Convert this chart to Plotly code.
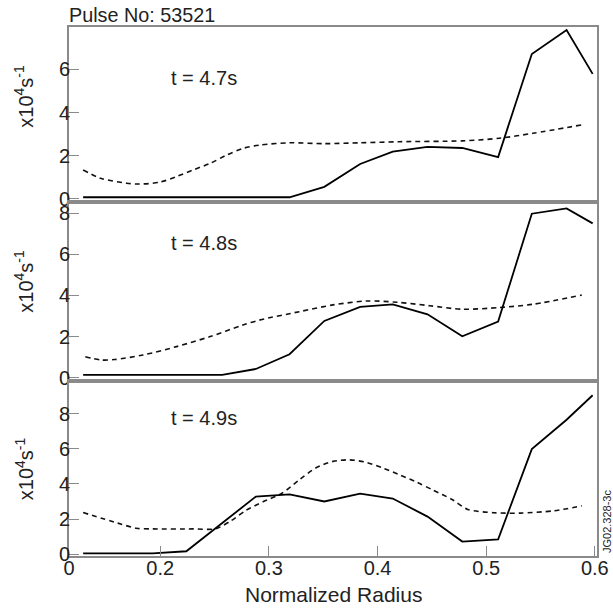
import plotly.graph_objects as go

# ---- data (x = normalized radius, y = x10^4 s^-1) ----
x_solid = [0.129, 0.161, 0.193, 0.224, 0.257, 0.288, 0.319, 0.351, 0.384, 0.414,
           0.446, 0.478, 0.511, 0.542, 0.574, 0.598]

y_solid_47 = [0.08, 0.08, 0.08, 0.08, 0.08, 0.08, 0.08, 0.56, 1.62, 2.19,
              2.41, 2.36, 1.94, 6.71, 7.82, 5.79]
y_solid_48 = [0.13, 0.13, 0.13, 0.13, 0.13, 0.42, 1.14, 2.76, 3.44, 3.57,
              3.08, 2.01, 2.73, 7.98, 8.24, 7.51]
y_solid_49 = [0.05, 0.05, 0.05, 0.17, 1.8, 3.28, 3.40, 3.0, 3.45, 3.17,
              2.14, 0.72, 0.85, 5.98, 7.65, 9.04]

x_dash_47 = [0.129, 0.145, 0.169, 0.181, 0.200, 0.215, 0.230, 0.246, 0.261, 0.276,
             0.292, 0.319, 0.351, 0.384, 0.420, 0.478, 0.512, 0.543, 0.588]
y_dash_47 = [1.34, 0.96, 0.73, 0.69, 0.78, 1.04, 1.34, 1.65, 2.03, 2.34,
             2.50, 2.60, 2.56, 2.60, 2.65, 2.69, 2.81, 3.04, 3.43]

x_dash_48 = [0.131, 0.145, 0.158, 0.184, 0.215, 0.246, 0.276, 0.292, 0.328, 0.359,
             0.390, 0.418, 0.448, 0.478, 0.512, 0.543, 0.588]
y_dash_48 = [1.02, 0.86, 0.88, 1.10, 1.51, 2.00, 2.56, 2.81, 3.21, 3.54,
             3.73, 3.67, 3.50, 3.33, 3.41, 3.57, 4.02]

x_dash_49 = [0.129, 0.161, 0.178, 0.193, 0.230, 0.251, 0.265, 0.279, 0.295, 0.312,
             0.328, 0.343, 0.359, 0.374, 0.390, 0.405, 0.420, 0.436, 0.451, 0.469,
             0.483, 0.507, 0.531, 0.562, 0.588]
y_dash_49 = [2.37, 1.77, 1.48, 1.44, 1.44, 1.45, 1.9, 2.5, 3.0, 3.47,
             4.23, 4.9, 5.28, 5.37, 5.22, 4.9, 4.52, 4.1, 3.65, 3.1,
             2.55, 2.36, 2.34, 2.47, 2.75]

panel_labels = ["t = 4.7s", "t = 4.8s", "t = 4.9s"]
x_tickvals = [0.116, 0.2, 0.3, 0.4, 0.5, 0.6]
x_ticktext = ["0", "0.2", "0.3", "0.4", "0.5", "0.6"]
y_ticks_top = [0, 2, 4, 6]
y_ticks_mid = [0, 2, 4, 6, 8]
y_ticks_bot = [0, 2, 4, 6, 8]

FONT = "Liberation Sans, Arial, Helvetica, sans-serif"
TXT = "#222222"
AX = "#8a8a8a"

fig = go.Figure()

panels = [
    ("y", "x", x_dash_47, y_dash_47, y_solid_47),
    ("y2", "x2", x_dash_48, y_dash_48, y_solid_48),
    ("y3", "x3", x_dash_49, y_dash_49, y_solid_49),
]
for ya, xa, xd, yd, ys in panels:
    fig.add_trace(go.Scatter(x=xd, y=yd, mode="lines", xaxis=xa, yaxis=ya,
                             line=dict(color="#111111", width=1.6, dash="5px,4px", shape="spline", smoothing=0.8),
                             showlegend=False, hoverinfo="skip"))
    fig.add_trace(go.Scatter(x=x_solid, y=ys, mode="lines", xaxis=xa, yaxis=ya,
                             line=dict(color="#000000", width=1.8),
                             showlegend=False, hoverinfo="skip"))

xr = [0.116, 0.602]
common_x = dict(range=xr, showline=True, linecolor=AX, linewidth=2, mirror=True,
                showgrid=False, zeroline=False, automargin=False)
common_y = dict(showline=True, linecolor=AX, linewidth=2, mirror=True, showgrid=False,
                zeroline=False, ticks="inside", ticklen=10, tickwidth=1.2, tickcolor=AX,
                tickfont=dict(family=FONT, size=20, color=TXT), ticklabelstandoff=-7,
                automargin=False)

H = 529.0
d_bot = (556 - 380.5) / H
d_mid = (556 - 202) / H

fig.update_layout(
    width=613, height=610,
    margin=dict(l=69, r=16, t=27, b=54, autoexpand=False),
    paper_bgcolor="white", plot_bgcolor="white",
    font=dict(family=FONT, color=TXT),
    # top panel (t=4.7s)
    xaxis=dict(common_x, domain=[0, 1], anchor="y", showticklabels=False, ticks=""),
    yaxis=dict(common_y, domain=[d_mid, 1], anchor="x", range=[-0.14, 7.96],
               tickvals=y_ticks_top),
    # middle panel (t=4.8s)
    xaxis2=dict(common_x, domain=[0, 1], anchor="y2", showticklabels=False, ticks="", matches="x"),
    yaxis2=dict(common_y, domain=[d_bot, d_mid], anchor="x2", range=[-0.14, 8.55],
                tickvals=y_ticks_mid),
    # bottom panel (t=4.9s)
    xaxis3=dict(common_x, domain=[0, 1], anchor="y3", matches="x",
                ticks="inside", ticklen=10, tickwidth=1.2, tickcolor=AX,
                tickvals=x_tickvals, ticktext=x_ticktext, ticklabelstandoff=-7,
                tickfont=dict(family=FONT, size=20, color=TXT)),
    yaxis3=dict(common_y, domain=[0, d_bot], anchor="x3", range=[-0.1, 9.88],
                tickvals=y_ticks_bot),
)

def py(p):
    return (556 - p) / H

def px(p):
    return (p - 69) / 528.0

ann = []
# panel time labels
for lbl, yc in zip(panel_labels, [77.7, 243.3, 418.3]):
    ann.append(dict(text=lbl, xref="paper", yref="paper", x=px(169), y=py(yc),
                    xanchor="left", yanchor="middle", showarrow=False,
                    font=dict(family=FONT, size=20, color=TXT)))
# y titles
for yc in [96.7, 281.7, 469.2]:
    ann.append(dict(text="x10<sup>4</sup>s<sup>-1</sup>", xref="paper", yref="paper",
                    x=px(24), y=py(yc), xanchor="center", yanchor="middle",
                    textangle=-90, showarrow=False,
                    font=dict(family=FONT, size=20, color=TXT)))
# x title
ann.append(dict(text="Normalized Radius", xref="paper", yref="paper",
                x=px(333.5), y=py(594), xanchor="center", yanchor="middle",
                showarrow=False, font=dict(family=FONT, size=21, color=TXT)))
# pulse label
ann.append(dict(text="Pulse No: 53521", xref="paper", yref="paper",
                x=px(67), y=py(15), xanchor="left", yanchor="middle",
                showarrow=False, font=dict(family=FONT, size=19.8, color=TXT)))
# side code
ann.append(dict(text="JG02.328-3c", xref="paper", yref="paper",
                x=px(607), y=py(522), xanchor="center", yanchor="middle",
                textangle=-90, showarrow=False,
                font=dict(family=FONT, size=11, color=TXT)))
fig.update_layout(annotations=ann)

fig.write_html("out.html", config={"displayModeBar": False},
               post_script="document.body.style.margin='0';document.body.style.overflow='hidden';")
